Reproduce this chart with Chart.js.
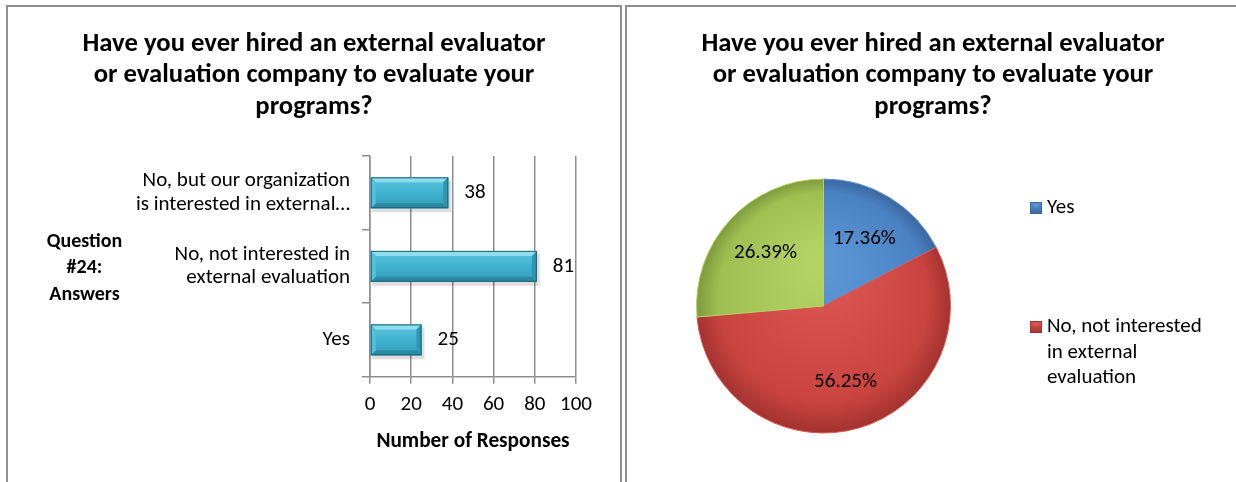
<!DOCTYPE html>
<html><head><meta charset="utf-8">
<script src="https://cdn.jsdelivr.net/npm/chart.js@4.4.1/dist/chart.umd.min.js"></script>
<style>
html,body{margin:0;padding:0;background:#fff;width:1236px;height:482px;overflow:hidden;}
.panel{position:absolute;box-sizing:border-box;border:2px solid #8e8e8e;border-bottom:none;}
#p1{left:6px;top:5px;width:616px;height:490px;}
#p2{left:625px;top:5px;width:640px;height:490px;border-right:none;}
canvas{position:absolute;}
#c1{left:8px;top:7px;}
#c2{left:627px;top:7px;}
</style></head><body>
<div class="panel" id="p1"></div><div class="panel" id="p2"></div>
<canvas id="c1" width="612" height="475"></canvas>
<canvas id="c2" width="609" height="475"></canvas>
<script>
// ---- data ----
const chartTitle = ['Have you ever hired an external evaluator', 'or evaluation company to evaluate your', 'programs?'];
const answerLabels = [['No, but our organization', 'is interested in external\u2026'], ['No, not interested in', 'external evaluation'], 'Yes'];
const responseCounts = [38, 81, 25];
const xTickValues = [0, 20, 40, 60, 80, 100];
const xAxisTitle = 'Number of Responses';
const yAxisTitle = ['Question', '#24:', 'Answers'];
const pieLabels = ['Yes', 'No, not interested in external evaluation', 'No, but our organization is interested in external evaluation'];
const pieShares = [17.36, 56.25, 26.39];
const legendItemsShown = 2;

// ---- styles ----
const FONT = 'Carlito, Calibri, Lato, sans-serif';
Chart.defaults.font.family = FONT;
Chart.defaults.color = '#000';
const GRID = '#8e8e8e';
const pieStyle = [
  {light: '#5b95d6', base: '#4a82c3', dark: '#3a669e'},
  {light: '#dc5853', base: '#c9443f', dark: '#a3322f'},
  {light: '#b3d365', base: '#9fbf52', dark: '#7e9a3d'}
];
const titleOpts = {
  display: true, text: chartTitle, color: '#000',
  font: {size: 26.7, weight: 'bold', lineHeight: 31.5 / 26.7},
  padding: {top: 21.25, bottom: 33.25}
};

// ---- bar chart plugins ----
function barBox(el) {
  const p = el.getProps(['x', 'y', 'base', 'height'], true);
  return {l: Math.min(p.base, p.x), r: Math.max(p.base, p.x), t: p.y - p.height / 2, b: p.y + p.height / 2, cy: p.y};
}
const bevelBars = {
  id: 'bevelBars',
  beforeDatasetsDraw(chart) {
    const ctx = chart.ctx;
    ctx.save();
    chart.getDatasetMeta(0).data.forEach(el => {
      const q = barBox(el);
      ctx.fillStyle = 'rgba(0,0,0,0.13)';
      ctx.fillRect(q.l + 1, q.t + 3, q.r - q.l + 2, q.b - q.t + 1);
    });
    ctx.restore();
  },
  afterDatasetsDraw(chart) {
    const ctx = chart.ctx;
    ctx.save();
    chart.getDatasetMeta(0).data.forEach((el, i) => {
      const q = barBox(el);
      const bv = 5;
      const g = ctx.createLinearGradient(0, q.t, 0, q.b);
      g.addColorStop(0, '#5cc6e0'); g.addColorStop(0.5, '#3fb2cf'); g.addColorStop(1, '#339db9');
      ctx.fillStyle = g;
      ctx.fillRect(q.l, q.t, q.r - q.l, q.b - q.t);
      const poly = (pts, col) => { ctx.beginPath(); ctx.moveTo(pts[0][0], pts[0][1]); pts.slice(1).forEach(p => ctx.lineTo(p[0], p[1])); ctx.closePath(); ctx.fillStyle = col; ctx.fill(); };
      poly([[q.l, q.t], [q.r, q.t], [q.r - bv, q.t + bv], [q.l + bv, q.t + bv]], '#8fdcee');
      poly([[q.l, q.b], [q.r, q.b], [q.r - bv, q.b - bv], [q.l + bv, q.b - bv]], '#2a8aa4');
      poly([[q.r, q.t], [q.r, q.b], [q.r - bv, q.b - bv], [q.r - bv, q.t + bv]], '#2f95b0');
      poly([[q.l, q.t], [q.l, q.b], [q.l + bv, q.b - bv], [q.l + bv, q.t + bv]], '#55c0da');
      ctx.strokeStyle = '#1d6275'; ctx.lineWidth = 1;
      ctx.strokeRect(q.l + 0.5, q.t + 0.5, q.r - q.l - 1, q.b - q.t - 1);
      // value label
      ctx.fillStyle = '#000';
      ctx.font = '21px ' + FONT;
      ctx.textAlign = 'left'; ctx.textBaseline = 'middle';
      ctx.fillText(String(responseCounts[i]), q.r + 16, q.cy);
    });
    ctx.restore();
  },
  afterDraw(chart) {
    const ctx = chart.ctx, a = chart.chartArea;
    ctx.save();
    ctx.fillStyle = '#000';
    ctx.font = 'bold 20px ' + FONT;
    ctx.textAlign = 'center'; ctx.textBaseline = 'middle';
    const mid = (a.top + a.bottom) / 2 + 2;
    yAxisTitle.forEach((t, i) => ctx.fillText(t, 76.5, mid + (i - 1) * 26.5));
    ctx.restore();
  }
};

new Chart(document.getElementById('c1'), {
  type: 'bar',
  data: {
    labels: answerLabels,
    datasets: [{data: responseCounts, backgroundColor: '#3fb2cf', borderWidth: 0, categoryPercentage: 1, barPercentage: 0.42}]
  },
  options: {
    indexAxis: 'y', responsive: false, animation: false, events: [],
    layout: {padding: {left: 44, right: 44, top: 0, bottom: 23.6}},
    plugins: {legend: {display: false}, tooltip: {enabled: false}, title: titleOpts},
    scales: {
      x: {
        min: 0, max: 100,
        afterBuildTicks: s => { s.ticks = xTickValues.map(v => ({value: v})); },
        grid: {color: GRID, lineWidth: 1.5, tickLength: 7},
        border: {color: GRID, width: 1.5},
        ticks: {font: {size: 21}, padding: 9, color: '#000', maxRotation: 0, autoSkip: false},
        title: {display: true, text: xAxisTitle, color: '#000', font: {size: 21.3, weight: 'bold'}, padding: {top: 2, bottom: 4}}
      },
      y: {
        grid: {drawOnChartArea: false, tickLength: 8, color: GRID, lineWidth: 1.5, offset: true},
        border: {color: GRID, width: 1.5},
        ticks: {font: {size: 21, lineHeight: 1.1}, padding: 12, color: '#000', autoSkip: false},
        afterFit: s => { s.width = 318; }
      }
    }
  },
  plugins: [bevelBars]
});

// ---- pie chart plugins ----
const pieLabelPlugin = {
  id: 'pieLabelPlugin',
  afterDatasetsDraw(chart) {
    const ctx = chart.ctx;
    ctx.save();
    ctx.fillStyle = '#000';
    ctx.font = '21px ' + FONT;
    ctx.textAlign = 'center'; ctx.textBaseline = 'middle';
    chart.getDatasetMeta(0).data.forEach((el, i) => {
      const p = el.getProps(['x', 'y', 'startAngle', 'endAngle', 'outerRadius'], true);
      const m = (p.startAngle + p.endAngle) / 2, r = p.outerRadius * 0.62;
      ctx.fillText(pieShares[i].toFixed(2) + '%', p.x + Math.cos(m) * r, p.y + Math.sin(m) * r);
    });
    ctx.restore();
  }
};
const sideLegend = {
  id: 'sideLegend',
  beforeInit(chart) {
    const box = {
      position: 'right', weight: 0, fullSize: false, options: {},
      left: 0, top: 0, right: 0, bottom: 0, width: 0, height: 0,
      isHorizontal() { return false; },
      update(maxW, maxH) { this.width = 219; this.height = maxH; },
      draw() {
        const ctx = chart.ctx;
        ctx.save();
        ctx.font = '21px ' + FONT;
        ctx.textBaseline = 'middle'; ctx.textAlign = 'left';
        const mx = this.left + 79, tx = this.left + 96;
        for (let i = 0; i < legendItemsShown; i++) {
          const y0 = this.top + 52 + i * 119;
          const st = pieStyle[i];
          const g = ctx.createLinearGradient(0, y0 - 6, 0, y0 + 6);
          g.addColorStop(0, st.light); g.addColorStop(1, st.dark);
          ctx.fillStyle = g;
          ctx.fillRect(mx, y0 - 6, 12, 12);
          ctx.fillStyle = st.light;
          ctx.beginPath(); ctx.moveTo(mx + 2, y0 - 4); ctx.lineTo(mx + 10, y0 - 4); ctx.lineTo(mx + 6, y0); ctx.closePath(); ctx.fill();
          ctx.strokeStyle = st.dark; ctx.lineWidth = 1;
          ctx.strokeRect(mx + 0.5, y0 - 5.5, 11, 11);
          const words = pieLabels[i].split(' ');
          const lines = []; let cur = '';
          words.forEach(w => { const t = cur ? cur + ' ' + w : w; if (ctx.measureText(t).width > 162 && cur) { lines.push(cur); cur = w; } else cur = t; });
          lines.push(cur);
          ctx.fillStyle = '#000';
          lines.forEach((ln, k) => ctx.fillText(ln, tx, y0 + k * 25.5));
        }
        ctx.restore();
      }
    };
    Chart.layouts.addBox(chart, box);
  }
};

new Chart(document.getElementById('c2'), {
  type: 'pie',
  data: {
    labels: pieLabels,
    datasets: [{
      data: pieShares,
      backgroundColor: c => {
        const st = pieStyle[c.dataIndex];
        const a = c.chart.chartArea;
        if (!a) return st.base;
        const cx = (a.left + a.right) / 2, cy = (a.top + a.bottom) / 2, R = Math.min(a.width, a.height) / 2;
        const g = c.chart.ctx.createRadialGradient(cx, cy - R * 0.35, R * 0.1, cx, cy, R);
        g.addColorStop(0, st.light); g.addColorStop(0.8, st.base); g.addColorStop(1, st.dark);
        return g;
      },
      borderColor: c => pieStyle[c.dataIndex].light,
      borderWidth: 1, hoverOffset: 0, offset: 0
    }]
  },
  options: {
    responsive: false, animation: false, events: [], rotation: 0,
    layout: {padding: {left: 69, right: 66, top: 0, bottom: 26}},
    plugins: {legend: {display: false}, tooltip: {enabled: false}, title: titleOpts}
  },
  plugins: [sideLegend, pieLabelPlugin]
});
</script>
</body></html>
